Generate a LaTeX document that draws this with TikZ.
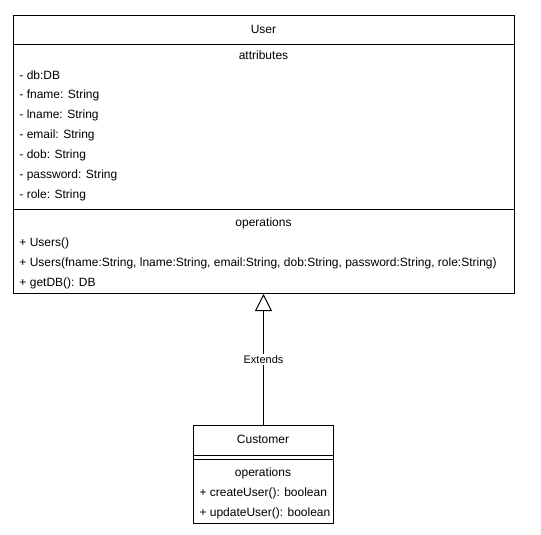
\documentclass[tikz,border=0pt]{standalone}
\usepackage{fontspec}
\setmainfont{Liberation Sans}
\usetikzlibrary{arrows.meta}
\begin{document}
\begin{tikzpicture}[x=1pt, y=-1pt, line width=1pt,
  classbox/.style={draw, rectangle, anchor=north west, inner sep=0pt},
  member/.style={anchor=west, inner sep=0pt, font=\fontsize{12}{14}\selectfont},
  title/.style={inner sep=0pt, font=\fontsize{12}{14}\selectfont},
  generalization/.style={-{Triangle[open, length=17pt, width=17pt]}},
  edgelabel/.style={fill=white, inner sep=1pt, font=\fontsize{11}{13}\selectfont}]
\useasboundingbox (0,0) rectangle (541,535);

% User class
\node[classbox, minimum width=501pt, minimum height=278pt] (user) at (13,15) {};
\draw (13,45) -- (514,45);
\draw (13,209) -- (514,209);
\node[title] (uname) at (263.5,29) {User};
\node[title] (uattr) at (263.5,55) {attributes};
\node[member] (a1) at (19,75) {- db:DB};
\node[member] (a2) at (19,95) {- fname: String};
\node[member] (a3) at (19,115) {- lname: String};
\node[member] (a4) at (19,135) {- email: String};
\node[member] (a5) at (19,155) {- dob: String};
\node[member] (a6) at (19,175) {- password: String};
\node[member] (a7) at (19,195) {- role: String};
\node[title] (uops) at (263.5,223) {operations};
\node[member] (o1) at (19,243) {+ Users()};
\node[member] (o2) at (19,263) {+ Users(fname:String, lname:String, email:String, dob:String, password:String, role:String)};
\node[member] (o3) at (19,283) {+ getDB(): DB};

% Customer class
\node[classbox, minimum width=140pt, minimum height=98pt] (customer) at (193,425) {};
\draw (193,455) -- (333,455);
\draw (193,459) -- (333,459);
\node[title] (cname) at (263,439) {Customer};
\node[title] (cops) at (263,473) {operations};
\node[member] (c1) at (199,493) {+ createUser(): boolean};
\node[member] (c2) at (199,513) {+ updateUser(): boolean};

% Inheritance
\draw[generalization] (customer.north) -- (customer.north |- user.south)
  node[edgelabel, pos=0.5] {Extends};
\end{tikzpicture}
\end{document}
